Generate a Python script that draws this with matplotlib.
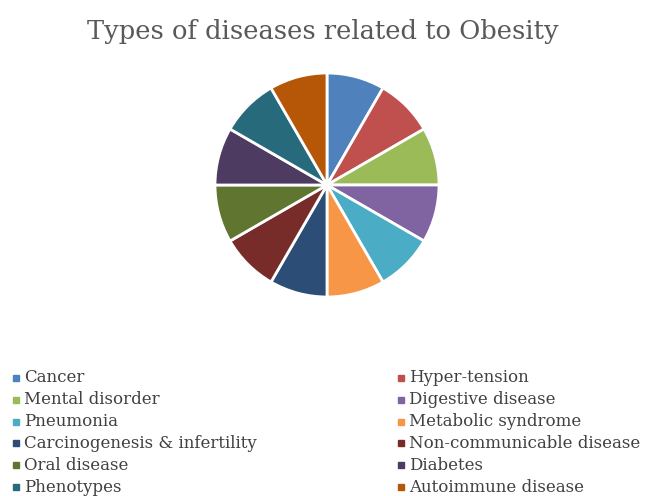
import matplotlib.pyplot as plt

# Data
diseases = ['Cancer', 'Hyper-tension', 'Mental disorder', 'Digestive disease',
            'Pneumonia', 'Metabolic syndrome', 'Carcinogenesis & infertility',
            'Non-communicable disease', 'Oral disease', 'Diabetes',
            'Phenotypes', 'Autoimmune disease']
shares = [1, 1, 1, 1, 1, 1, 1, 1, 1, 1, 1, 1]
colors = ['#4F81BD', '#C0504D', '#9BBB59', '#8064A2', '#4BACC6', '#F79646',
          '#2C4D75', '#772C2A', '#5F7530', '#4D3B62', '#276A7C', '#B65708']

plt.rcParams['font.family'] = ['DejaVu Serif']

fig = plt.figure(figsize=(6.46, 4.96), dpi=100)

# pie area: centre ~(327,185), radius ~112 px
ax = fig.add_axes([(327 - 112) / 646, 1 - (185 + 112) / 496, 224 / 646, 224 / 496])
ax.pie(shares, colors=colors, startangle=90, counterclock=False,
       wedgeprops=dict(edgecolor='white', linewidth=2))
ax.set_xlim(-1.0, 1.0)
ax.set_ylim(-1.0, 1.0)
ax.set_aspect('equal')

fig.text(0.5, 1 - 32 / 496, 'Types of diseases related to Obesity',
         ha='center', va='center', fontsize=18.5, color='#595959')

# legend laid out row by row in two columns
col_x = [13 / 646, 398 / 646]
row_y0 = 378
row_dy = 21.8
for i, (name, c) in enumerate(zip(diseases, colors)):
    col = i % 2
    row = i // 2
    y = 1 - (row_y0 + row * row_dy) / 496
    fig.patches.append(plt.Rectangle((col_x[col], y - 3 / 496), 6 / 646, 6 / 496,
                                     transform=fig.transFigure, color=c, figure=fig))
    fig.text(col_x[col] + 11 / 646, y, name, ha='left', va='center',
             fontsize=12, color='#404040')

fig.savefig('out.png', dpi=100)
